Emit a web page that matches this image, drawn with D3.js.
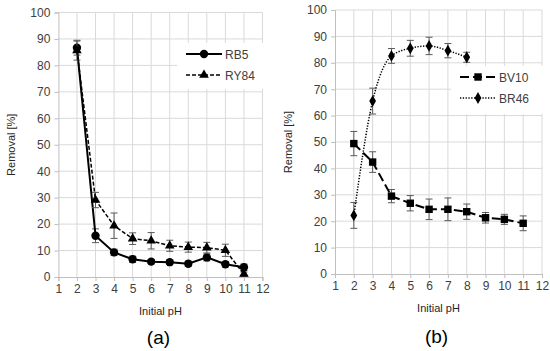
<!DOCTYPE html>
<html>
<head>
<meta charset="utf-8">
<script src="https://cdn.jsdelivr.net/npm/d3@7"></script>
<style>
  body { margin: 0; background: #fff; }
  text { font-family: "Liberation Sans", Arial, sans-serif; }
</style>
</head>
<body>
<div id="container"></div>
<script>
// data
var pH = [2, 3, 4, 5, 6, 7, 8, 9, 10, 11];
var pH_br46 = [2, 3, 4, 5, 6, 7, 8];
var xTicks = [1, 2, 3, 4, 5, 6, 7, 8, 9, 10, 11, 12];
var yTicks = [0, 10, 20, 30, 40, 50, 60, 70, 80, 90, 100];

var rb5 = [86.7, 15.6, 9.3, 6.7, 5.8, 5.6, 5.0, 7.4, 4.8, 3.7];
var rb5Err = [2.8, 2.6, 1.2, 1.2, 0.8, 0.8, 1.0, 1.3, 1.0, 1.2];
var ry84 = [85.6, 29.1, 19.4, 14.5, 13.7, 11.8, 11.3, 11.1, 10.1, 1.1];
var ry84Err = [3.6, 2.9, 4.8, 2.2, 3.1, 2.1, 1.9, 2.0, 2.3, 0.8];

var bv10 = [49.4, 42.4, 29.5, 26.8, 24.5, 24.5, 23.6, 21.3, 20.7, 19.2];
var bv10Err = [4.6, 3.9, 2.5, 2.9, 3.9, 4.3, 2.9, 2.0, 1.9, 2.8];
var br46 = [22.2, 65.5, 82.6, 85.5, 86.4, 84.6, 82.1];
var br46Err = [4.9, 4.9, 2.8, 3.0, 3.3, 2.7, 1.9];

function load() {

	var svg = d3.select("#container")
		.append("svg")
		.attr("width", 550)
		.attr("height", 351);

	// one entry per panel
	var panels = [
		{
			x0: 58.4, x1: 262.5, y0: 277, y1: 12.5,
			label: "(a)", labelY: 344, titleY: 315, yTitleX: 15,
			legend: { x: 177, y: 43, w: 86, h: 46 },
			series: [
				{ name: "RB5", xs: pH, ys: rb5, err: rb5Err, sym: d3.symbolCircle, size: 55, width: 2, dash: null, curve: d3.curveLinear },
				{ name: "RY84", xs: pH, ys: ry84, err: ry84Err, sym: d3.symbolTriangle, size: 40, width: 1.5, dash: "4,2", curve: d3.curveLinear }
			]
		},
		{
			x0: 335, x1: 542, y0: 274, y1: 10,
			label: "(b)", labelY: 343, titleY: 312, yTitleX: 292,
			legend: { x: 451, y: 66, w: 92, h: 48 },
			series: [
				{ name: "BV10", xs: pH, ys: bv10, err: bv10Err, sym: d3.symbolSquare, size: 55, width: 2, dash: "9,4", curve: d3.curveLinear },
				{ name: "BR46", xs: pH_br46, ys: br46, err: br46Err, sym: d3.symbolDiamond, size: 40, width: 1.5, dash: "1.3,1.5", curve: d3.curveMonotoneX }
			]
		}
	];

	panels.forEach(function(p) {

		var xScale = d3.scaleLinear().domain([1, 12]).range([p.x0, p.x1]);
		var yScale = d3.scaleLinear().domain([0, 100]).range([p.y0, p.y1]);

		var g = svg.append("g");

		// gridlines
		g.selectAll(".hgrid").data(yTicks.slice(1)).enter()
			.append("line")
			.attr("x1", p.x0).attr("x2", p.x1)
			.attr("y1", function(d) { return yScale(d); })
			.attr("y2", function(d) { return yScale(d); })
			.attr("stroke", "#d9d9d9");

		g.selectAll(".vgrid").data(xTicks.slice(1)).enter()
			.append("line")
			.attr("y1", p.y0).attr("y2", p.y1)
			.attr("x1", function(d) { return xScale(d); })
			.attr("x2", function(d) { return xScale(d); })
			.attr("stroke", "#d9d9d9");

		// axes
		var xAxis = g.append("g")
			.attr("transform", "translate(0," + p.y0 + ")")
			.call(d3.axisBottom(xScale).tickValues(xTicks).tickSize(4).tickPadding(3).tickFormat(d3.format("d")));

		var yAxis = g.append("g")
			.attr("transform", "translate(" + p.x0 + ",0)")
			.call(d3.axisLeft(yScale).tickValues(yTicks).tickSize(4).tickPadding(4));

		[xAxis, yAxis].forEach(function(a) {
			a.select(".domain").attr("stroke", "#bfbfbf");
			a.selectAll(".tick line").attr("stroke", "#bfbfbf");
			a.selectAll(".tick text")
				.style("font-size", "12px")
				.attr("fill", "#404040");
		});

		// axis titles
		g.append("text")
			.attr("x", (p.x0 + p.x1) / 2)
			.attr("y", p.titleY)
			.attr("text-anchor", "middle")
			.style("font-size", "11px")
			.attr("fill", "#262626")
			.text("Initial pH");

		g.append("text")
			.attr("transform", "translate(" + p.yTitleX + "," + (p.y0 + p.y1) / 2 + ") rotate(-90)")
			.attr("text-anchor", "middle")
			.style("font-size", "11px")
			.attr("fill", "#262626")
			.text("Removal [%]");

		g.append("text")
			.attr("x", (p.x0 + p.x1) / 2 - 2)
			.attr("y", p.labelY)
			.attr("text-anchor", "middle")
			.style("font-size", "19px")
			.attr("fill", "#000")
			.text(p.label);

		// series
		p.series.forEach(function(s) {
			var pts = s.xs.map(function(x, i) { return { x: x, y: s.ys[i], e: s.err[i] }; });

			// error bars
			var eb = g.append("g").attr("stroke", "#595959").attr("stroke-width", 1);
			pts.forEach(function(d) {
				var cx = xScale(d.x);
				eb.append("line").attr("x1", cx).attr("x2", cx)
					.attr("y1", yScale(d.y - d.e)).attr("y2", yScale(d.y + d.e));
				eb.append("line").attr("x1", cx - 3.5).attr("x2", cx + 3.5)
					.attr("y1", yScale(d.y - d.e)).attr("y2", yScale(d.y - d.e));
				eb.append("line").attr("x1", cx - 3.5).attr("x2", cx + 3.5)
					.attr("y1", yScale(d.y + d.e)).attr("y2", yScale(d.y + d.e));
			});

			var line = d3.line()
				.curve(s.curve)
				.x(function(d) { return xScale(d.x); })
				.y(function(d) { return yScale(d.y); });

			g.append("path")
				.datum(pts)
				.attr("d", line)
				.attr("fill", "none")
				.attr("stroke", "#000")
				.attr("stroke-width", s.width)
				.attr("stroke-dasharray", s.dash);

			g.selectAll(null).data(pts).enter()
				.append("path")
				.attr("d", d3.symbol().type(s.sym).size(s.size))
				.attr("transform", function(d) { return "translate(" + xScale(d.x) + "," + yScale(d.y) + ")"; })
				.attr("fill", "#000");
		});

		// legend
		var lg = g.append("g");
		lg.append("rect")
			.attr("x", p.legend.x).attr("y", p.legend.y)
			.attr("width", p.legend.w).attr("height", p.legend.h)
			.attr("fill", "#fff");

		p.series.forEach(function(s, i) {
			var ly = p.legend.y + 11 + i * 21;
			var lx = p.legend.x + 9;
			lg.append("line")
				.attr("x1", lx).attr("x2", lx + 36)
				.attr("y1", ly).attr("y2", ly)
				.attr("stroke", "#000")
				.attr("stroke-width", s.width)
				.attr("stroke-dasharray", s.dash);
			lg.append("path")
				.attr("d", d3.symbol().type(s.sym).size(s.size))
				.attr("transform", "translate(" + (lx + 18) + "," + ly + ")")
				.attr("fill", "#000");
			lg.append("text")
				.attr("x", lx + 39)
				.attr("y", ly + 4.5)
				.style("font-size", "12px")
				.attr("fill", "#404040")
				.text(s.name);
		});
	});
}

load();
</script>
</body>
</html>
